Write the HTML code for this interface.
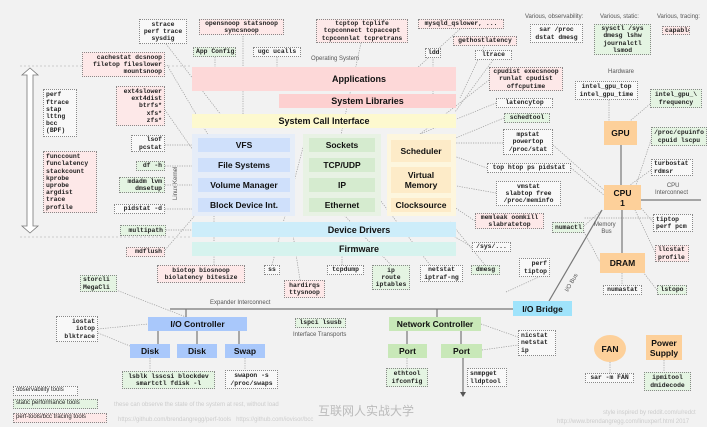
<!DOCTYPE html>
<html><head><meta charset="utf-8">
<style>
body{margin:0;width:707px;height:427px;overflow:hidden;background:#f2f2f2;font-family:"Liberation Sans","Noto Sans CJK SC",sans-serif;position:relative}
.b{position:absolute;box-sizing:border-box;display:flex;align-items:center;justify-content:center;font-weight:bold;color:#111;text-align:center}
.t{position:absolute;box-sizing:border-box;border:1px dotted #888;font-family:"Liberation Mono",monospace;font-weight:bold;font-size:6.4px;line-height:7.2px;color:#222;padding:0 2px;white-space:pre;display:flex;flex-direction:column;justify-content:center;overflow:hidden}
.w{background:#f8f8f8}.g{background:#e4f4e2}.p{background:#fde8e8}
.l{position:absolute;font-size:6px;color:#555;white-space:nowrap}
svg{position:absolute;left:0;top:0}
</style></head><body>
<svg width="707" height="427">
<g stroke="#999" stroke-width="0.7" stroke-dasharray="1.2,1.2" fill="none" id="dots"></g>
<g stroke="#777" stroke-width="1.2" fill="none">
<line x1="170" y1="309" x2="515" y2="309"/>
<line x1="186" y1="309" x2="186" y2="317"/>
<line x1="437" y1="309" x2="437" y2="317"/>
<line x1="549" y1="301" x2="602" y2="210"/>
<line x1="621" y1="145" x2="621" y2="185"/>
<line x1="622" y1="210" x2="622" y2="253"/>
<line x1="641" y1="200" x2="701" y2="200"/>
<line x1="158" y1="331" x2="158" y2="344"/>
<line x1="197" y1="331" x2="197" y2="344"/>
<line x1="239" y1="331" x2="239" y2="344"/>
<line x1="407" y1="331" x2="407" y2="344"/>
<line x1="461" y1="331" x2="461" y2="344"/>
<line x1="463" y1="357" x2="463" y2="393"/>
</g>
<path d="M460,392 L463,397 L466,392 Z" fill="#555"/>
<path d="M30,68 L22,75 L27,75 L27,226 L22,226 L30,233 L38,226 L33,226 L33,75 L38,75 Z" fill="#fff" stroke="#777" stroke-width="0.8"/>
<line x1="20" y1="66" x2="192" y2="66" stroke="#ccc" stroke-dasharray="2,2"/>
<line x1="20" y1="237" x2="192" y2="237" stroke="#ccc" stroke-dasharray="2,2"/>
</svg>

<div class="b" style="left:192px;top:67px;width:264px;height:24px;background:#fdd8d8;font-size:9px;padding-left:70px">Applications</div>
<div class="b" style="left:279px;top:94px;width:177px;height:14px;background:#fdd0d0;font-size:9px">System Libraries</div>
<div class="b" style="left:192px;top:114px;width:264px;height:14px;background:#fdf9cf;font-size:9px">System Call Interface</div>
<div style="position:absolute;left:192px;top:134px;width:103px;height:82px;background:#e6edf8"></div>
<div style="position:absolute;left:303px;top:134px;width:78px;height:82px;background:#e8f2e4"></div>
<div style="position:absolute;left:387px;top:134px;width:69px;height:82px;background:#fdf6de"></div>
<div class="b" style="left:198px;top:138px;width:92px;height:14px;background:#cfe0fb;font-size:8.5px">VFS</div>
<div class="b" style="left:198px;top:158px;width:92px;height:14px;background:#cfe0fb;font-size:8.5px">File Systems</div>
<div class="b" style="left:198px;top:178px;width:92px;height:14px;background:#cfe0fb;font-size:8.5px">Volume Manager</div>
<div class="b" style="left:198px;top:198px;width:92px;height:14px;background:#cfe0fb;font-size:8.5px">Block Device Int.</div>
<div class="b" style="left:309px;top:138px;width:66px;height:14px;background:#d5ebcf;font-size:8.5px">Sockets</div>
<div class="b" style="left:309px;top:158px;width:66px;height:14px;background:#d5ebcf;font-size:8.5px">TCP/UDP</div>
<div class="b" style="left:309px;top:178px;width:66px;height:14px;background:#d5ebcf;font-size:8.5px">IP</div>
<div class="b" style="left:309px;top:198px;width:66px;height:14px;background:#d5ebcf;font-size:8.5px">Ethernet</div>
<div class="b" style="left:391px;top:140px;width:60px;height:22px;background:#fdebc8;font-size:8.5px">Scheduler</div>
<div class="b" style="left:391px;top:167px;width:60px;height:26px;background:#fdebc8;font-size:8.5px;line-height:10px">Virtual<br>Memory</div>
<div class="b" style="left:391px;top:198px;width:60px;height:14px;background:#fdebc8;font-size:8.5px">Clocksource</div>
<div class="b" style="left:192px;top:222px;width:264px;height:15px;background:#cdedfa;font-size:9px;padding-left:70px">Device Drivers</div>
<div class="b" style="left:192px;top:242px;width:264px;height:14px;background:#d6f3ee;font-size:9px;padding-left:70px">Firmware</div>

<div class="b" style="left:513px;top:301px;width:59px;height:15px;background:#9fe3fb;font-size:8.5px">I/O Bridge</div>
<div class="b" style="left:148px;top:317px;width:99px;height:14px;background:#a9c8fb;font-size:8.5px">I/O Controller</div>
<div class="b" style="left:130px;top:344px;width:40px;height:14px;background:#a9c8fb;font-size:8.5px">Disk</div>
<div class="b" style="left:177px;top:344px;width:40px;height:14px;background:#a9c8fb;font-size:8.5px">Disk</div>
<div class="b" style="left:225px;top:344px;width:40px;height:14px;background:#a9c8fb;font-size:8.5px">Swap</div>
<div class="b" style="left:389px;top:317px;width:92px;height:14px;background:#c8e8b8;font-size:8.5px">Network Controller</div>
<div class="b" style="left:388px;top:344px;width:39px;height:14px;background:#c8e8b8;font-size:8.5px">Port</div>
<div class="b" style="left:441px;top:344px;width:41px;height:14px;background:#c8e8b8;font-size:8.5px">Port</div>
<div class="b" style="left:604px;top:121px;width:33px;height:24px;background:#fdd09a;font-size:8.5px">GPU</div>
<div class="b" style="left:604px;top:185px;width:37px;height:25px;background:#fdd09a;font-size:8.5px;line-height:10px">CPU<br>1</div>
<div class="b" style="left:600px;top:253px;width:45px;height:20px;background:#fdd09a;font-size:8.5px">DRAM</div>
<div class="b" style="left:594px;top:335px;width:32px;height:27px;background:#fdd09a;font-size:8.5px;border-radius:50%">FAN</div>
<div class="b" style="left:646px;top:335px;width:36px;height:25px;background:#fdd09a;font-size:8.5px;line-height:10px">Power<br>Supply</div>

<div class="l" style="left:311px;top:56px">Operating System</div>
<div class="l" style="left:173px;top:200px;transform:rotate(-90deg);transform-origin:left top">Linux Kernel</div>
<div class="l" style="left:525px;top:14px">Various, observability:</div>
<div class="l" style="left:600px;top:14px">Various, static:</div>
<div class="l" style="left:657px;top:14px">Various, tracing:</div>
<div class="l" style="left:608px;top:69px">Hardware</div>
<div class="l" style="left:655px;top:183px;text-align:center;line-height:7px">&nbsp;&nbsp;CPU<br>Interconnect</div>
<div class="l" style="left:594px;top:222px;text-align:center;line-height:7px">Memory<br>&nbsp;&nbsp;Bus</div>
<div class="l" style="left:562px;top:280px;transform:rotate(-60deg)">I/O Bus</div>
<div class="l" style="left:210px;top:300px">Expander Interconnect</div>
<div class="l" style="left:293px;top:332px">Interface Transports</div>
<div class="l" style="left:114px;top:402px;color:#ccc">these can observe the state of the system at rest, without load</div>
<div class="l" style="left:118px;top:417px;color:#ccc">https://github.com/brendangregg/perf-tools &nbsp;&nbsp;https://github.com/iovisor/bcc</div>
<div class="l" style="left:318px;top:402px;color:#bbb;font-size:12px">互联网人实战大学</div>
<div class="l" style="left:603px;top:410px;color:#ccc">style inspired by reddit.com/u/redct</div>
<div class="l" style="left:557px;top:419px;color:#ccc">http://www.brendangregg.com/linuxperf.html 2017</div>

<script>
var toolNames = ["strace","opensnoop","tcptop","mysqld-qslower","gethostlatency","ldd","ltrace","cpudist","latencytop","schedtool","mpstat","top","vmstat","memleak","sys","dmesg","netstat","ip-route","tcpdump","hardirqs","ss","biotop","mdflush","multipath","pidstat-d","mdadm","df","lsof","ext4slower","cachestat","perf-ftrace","funccount","app-config","ugc-ucalls","sar-proc","sysctl","capable","intel-gpu-top","intel-gpu-frequency","cpuinfo","turbostat","tiptop","llcstat","lstopo","numastat","numactl","perf-tiptop","nicstat","ethtool","snmpget","sar-fan","ipmitool","lsblk","swapon","storcli","iostat","lspci","legend-observability","legend-static","legend-tracing"];
var toolText = ["strace\nperf trace\nsysdig","opensnoop statsnoop\nsyncsnoop","tcptop tcplife\ntcpconnect tcpaccept\ntcpconnlat tcpretrans","mysqld_qslower, ...","gethostlatency","ldd","ltrace","cpudist execsnoop\nrunlat cpudist\noffcputime","latencytop","schedtool","mpstat\npowertop\n/proc/stat","top htop ps pidstat","vmstat\nslabtop free\n/proc/meminfo","memleak oomkill\nslabratetop","/sys/...","dmesg","netstat\niptraf-ng","ip\nroute\niptables","tcpdump","hardirqs\nttysnoop","ss","biotop biosnoop\nbiolatency bitesize","mdflush","multipath","pidstat -d","mdadm lvm\ndmsetup","df -h","lsof\npcstat","ext4slower\next4dist\nbtrfs*\nxfs*\nzfs*","cachestat dcsnoop\nfiletop fileslower\nmountsnoop","perf\nftrace\nstap\nlttng\nbcc\n(BPF)","funccount\nfunclatency\nstackcount\nkprobe\nuprobe\nargdist\ntrace\nprofile","App Config","ugc ucalls","sar /proc\ndstat dmesg","sysctl /sys\ndmesg lshw\njournalctl\nlsmod","capable","intel_gpu_top\nintel_gpu_time","intel_gpu_\\\nfrequency","/proc/cpuinfo\ncpuid lscpu","turbostat\nrdmsr","tiptop\nperf pcm","llcstat\nprofile","lstopo","numastat","numactl","perf\ntiptop","nicstat\nnetstat\nip","ethtool\nifconfig","snmpget\nlldptool","sar -m FAN","ipmitool\ndmidecode","lsblk lsscsi blockdev\nsmartctl fdisk -l","swapon -s\n/proc/swaps","storcli\nMegaCli","iostat\niotop\nblktrace","lspci lsusb","observability tools","static performance tools","perf-tools/bcc tracing tools"];
var toolKind = ["w","p","p","p","p","w","w","p","w","g","w","w","w","p","w","g","w","g","w","p","w","p","p","g","w","g","g","w","p","p","w","p","g","w","w","g","p","w","g","g","w","w","p","g","w","g","w","w","g","w","w","g","g","w","g","w","g","w","g","p"];
var toolAlign = ["c","c","c","c","c","c","c","c","c","c","c","c","c","c","c","c","c","c","c","c","c","c","r","r","r","r","r","r","r","r","l","l","c","c","c","c","c","c","c","c","l","l","l","c","c","c","r","l","c","l","c","c","c","c","l","r","c","l","l","l"];
var toolBox = [[139,19,48,25],[199,19,85,16],[316,19,92,24],[418,19,86,10],[453,36,64,10],[425,48,16,10],[475,50,37,10],[489,67,74,24],[496,98,57,10],[504,113,46,10],[503,129,50,26],[487,163,84,10],[496,181,65,25],[475,213,69,16],[472,242,39,10],[471,265,29,10],[420,265,43,17],[372,265,38,25],[327,265,37,10],[284,280,41,18],[264,265,16,10],[157,265,88,18],[126,247,39,10],[120,225,46,11],[114,204,51,10],[119,177,46,16],[136,161,29,10],[131,135,34,17],[116,86,49,40],[82,52,83,25],[43,89,34,48],[43,151,54,62],[193,47,43,10],[253,47,48,10],[530,24,53,19],[594,24,57,31],[662,26,28,9],[575,81,63,19],[650,89,52,19],[651,127,56,19],[651,159,42,17],[653,214,40,18],[655,245,34,17],[657,285,30,10],[603,285,39,10],[552,222,32,11],[519,258,31,19],[518,330,38,26],[386,368,42,19],[467,368,40,19],[585,373,49,10],[644,372,47,19],[122,371,93,18],[225,370,53,19],[80,275,37,17],[56,316,42,26],[295,318,51,10],[13,386,65,10],[13,399,85,10],[13,413,94,10]];
var dotLines = [[163,40,225,120],[167,65,210,138],[165,110,200,160],[165,145,198,145],[165,166,198,166],[165,185,198,185],[165,209,198,209],[166,230,192,230],[165,250,198,212],[243,36,243,114],[215,57,215,67],[277,57,277,67],[361,43,335,162],[460,29,415,70],[485,45,460,98],[433,57,433,98],[493,60,455,112],[489,80,420,134],[496,103,420,134],[504,118,451,140],[503,143,451,143],[553,145,604,190],[487,168,451,155],[571,168,604,195],[496,193,451,185],[475,221,451,205],[472,247,440,228],[485,265,450,222],[430,265,380,200],[391,265,330,200],[342,265,342,256],[300,280,292,228],[272,265,305,140],[214,265,214,212],[98,283,186,317],[98,329,148,324],[98,333,130,346],[150,358,150,371],[245,358,245,370],[506,292,550,272],[481,324,518,337],[482,350,518,345],[407,358,407,368],[609,100,609,121],[650,104,630,121],[651,140,636,185],[651,170,630,185],[653,222,641,208],[655,252,635,210],[657,290,640,268],[622,273,622,285],[584,226,602,210],[584,232,600,262],[610,362,610,373],[664,360,664,372],[653,218,584,218]];
var dots = document.getElementById('dots');
for (var j = 0; j < dotLines.length; j++) {
  var ln = document.createElementNS('http://www.w3.org/2000/svg','line');
  ln.setAttribute('x1', dotLines[j][0]); ln.setAttribute('y1', dotLines[j][1]);
  ln.setAttribute('x2', dotLines[j][2]); ln.setAttribute('y2', dotLines[j][3]);
  
  
  dots.appendChild(ln);
}
for (var i = 0; i < toolText.length; i++) {
  var el = document.createElement('div');
  el.className = 't ' + toolKind[i];
  var bx = toolBox[i];
  el.style.left = bx[0] + 'px'; el.style.top = bx[1] + 'px';
  el.style.width = bx[2] + 'px'; el.style.height = bx[3] + 'px';
  var a = toolAlign[i];
  el.style.textAlign = a === 'r' ? 'right' : (a === 'l' ? 'left' : 'center');
  if (i >= toolText.length - 3) { el.style.fontFamily = '"Liberation Sans",sans-serif'; el.style.fontWeight = 'normal'; el.style.fontSize = '6px'; }
  el.textContent = toolText[i];
  
  
  document.body.appendChild(el);
}
</script>
</body></html>
